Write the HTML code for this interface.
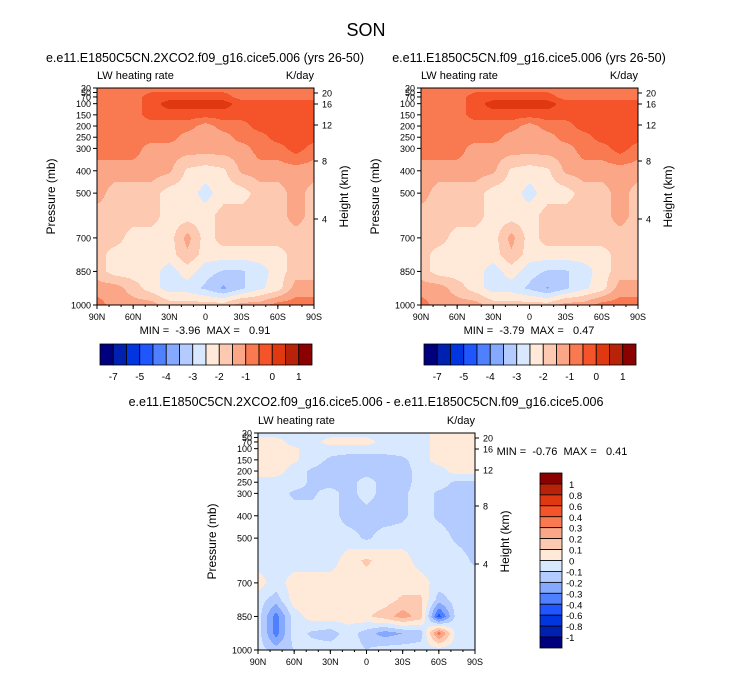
<!DOCTYPE html>
<html><head><meta charset="utf-8"><style>
body{margin:0;background:#fff;font-family:"Liberation Sans",sans-serif;}
svg text{font-family:"Liberation Sans",sans-serif;fill:#000;}
</style></head><body>
<svg id="fig" width="733" height="673" viewBox="0 0 733 673" xmlns="http://www.w3.org/2000/svg">
<rect width="733" height="673" fill="#fff"/>
<text x="366" y="36" font-size="18" text-anchor="middle">SON</text>
</svg>
<script>
const lats=[90,75,60,45,30,15,0,-15,-30,-45,-60,-75,-90];
const levs=[30,70,100,150,200,250,300,400,500,600,700,775,850,925,1000];
const pTicks=[30,50,70,100,150,200,250,300,400,500,700,850,1000];
const xTickLabels=["90N","60N","30N","0","30S","60S","90S"];
const hTickLabels=["20","16","12","8","4"];
const topBounds=[-7,-6,-5,-4.5,-4,-3.5,-3,-2.5,-2,-1.5,-1,-0.5,0,0.5,1];
const topBarLabels=["-7","-5","-4","-3","-2","-1","0","1"];
const diffBounds=[-1,-0.8,-0.6,-0.4,-0.3,-0.2,-0.1,0,0.1,0.2,0.3,0.4,0.6,0.8,1];
const diffBarLabels=["1","0.8","0.6","0.4","0.3","0.2","0.1","0","-0.1","-0.2","-0.3","-0.4","-0.6","-0.8","-1"];
const palette=["#00007f","#0020b0","#0035e0","#1f56ff","#4f80ff","#85a9ff","#b3cbff","#d8e8ff","#ffe9d8","#fdc9b0","#fca688","#f97a50","#f5532a","#e03912","#b82208","#8b0000"];
// LW heating rate, 2xCO2 (K/day), rows=levs, cols=lats
const co2Vals=[
[-0.75,-0.75,-0.75,-0.75,-0.75,-0.75,-0.75,-0.75,-0.75,-0.75,-0.75,-0.75,-0.75],
[-0.75,-0.75,-0.75,-0.25,-0.25,-0.25,-0.25,-0.25,-0.75,-0.75,-0.75,-0.75,-0.75],
[-0.75,-0.75,-0.75,-0.25,0.25,0.25,0.3,0.25,-0.25,-0.25,-0.25,-0.25,-0.25],
[-0.75,-0.75,-0.75,-0.25,-0.25,-0.25,-0.3,-0.25,-0.25,-0.25,-0.25,-0.25,-0.25],
[-0.75,-0.75,-0.75,-0.75,-0.75,-0.75,-1.25,-0.75,-0.75,-0.25,-0.25,-0.25,-0.25],
[-0.75,-0.75,-0.75,-0.75,-0.75,-1.25,-1.25,-1.25,-0.75,-0.75,-0.25,-0.25,-0.25],
[-0.75,-0.75,-0.75,-1.25,-1.25,-1.25,-1.25,-1.25,-1.25,-0.75,-0.75,-0.25,-0.75],
[-1.25,-1.25,-1.25,-1.25,-1.4,-2.1,-2.25,-2.1,-1.4,-1.25,-1.25,-1.25,-1.25],
[-1.25,-1.75,-1.75,-1.75,-2.25,-2.25,-2.7,-2.25,-2.25,-1.75,-1.75,-1.25,-1.75],
[-1.75,-1.75,-1.75,-1.75,-2.25,-2.25,-2.25,-1.75,-1.75,-1.75,-1.75,-1.25,-1.75],
[-1.75,-1.75,-2.25,-2.25,-2.25,-1.3,-2.25,-1.75,-1.75,-1.75,-1.75,-1.75,-1.75],
[-1.75,-2.25,-2.25,-2.25,-2.25,-1.6,-2.25,-2.25,-2.25,-2.25,-2.25,-1.75,-1.75],
[-1.75,-2.25,-2.25,-2.25,-2.75,-2.25,-2.8,-3.05,-3.05,-2.75,-2.25,-1.75,-1.75],
[-1.25,-1.25,-1.75,-2.25,-2.75,-2.75,-3.1,-3.6,-3.1,-2.6,-2.25,-1.25,-1.25],
[-0.75,-1.25,-1.25,-1.25,-1.75,-1.75,-1.75,-1.75,-1.25,-1.25,-0.75,-0.75,-0.75]];
// LW heating rate, control (K/day)
const ctlVals=[
[-0.75,-0.75,-0.75,-0.75,-0.75,-0.75,-0.75,-0.75,-0.75,-0.75,-0.75,-0.75,-0.75],
[-0.75,-0.75,-0.75,-0.25,-0.25,-0.25,-0.25,-0.25,-0.75,-0.75,-0.75,-0.75,-0.75],
[-0.75,-0.75,-0.75,-0.25,0.25,0.25,0.3,0.25,-0.25,-0.25,-0.25,-0.25,-0.25],
[-0.75,-0.75,-0.75,-0.25,-0.25,-0.25,-0.3,-0.25,-0.25,-0.25,-0.25,-0.25,-0.25],
[-0.75,-0.75,-0.75,-0.75,-0.75,-0.75,-1.25,-0.75,-0.75,-0.25,-0.25,-0.25,-0.25],
[-0.75,-0.75,-0.75,-0.75,-0.75,-1.25,-1.25,-1.25,-0.75,-0.75,-0.25,-0.25,-0.25],
[-0.75,-0.75,-0.75,-1.25,-1.25,-1.25,-1.25,-1.25,-1.25,-0.75,-0.75,-0.25,-0.75],
[-1.25,-1.25,-1.25,-1.25,-1.4,-2.1,-2.25,-2.1,-1.4,-1.25,-1.25,-1.25,-1.25],
[-1.25,-1.75,-1.75,-1.75,-2.25,-2.25,-2.7,-2.25,-2.25,-1.75,-1.75,-1.25,-1.75],
[-1.75,-1.75,-1.75,-1.75,-2.25,-2.25,-2.25,-1.75,-1.75,-1.75,-1.75,-1.25,-1.75],
[-1.75,-1.75,-2.25,-2.25,-2.25,-1.3,-2.25,-1.75,-1.75,-1.75,-1.75,-1.75,-1.75],
[-1.75,-2.25,-2.25,-2.25,-2.25,-1.6,-2.25,-2.25,-2.25,-2.25,-2.25,-1.75,-1.75],
[-1.75,-2.25,-2.25,-2.25,-2.75,-2.25,-2.8,-3.05,-3.05,-2.75,-2.25,-1.75,-1.75],
[-1.25,-1.25,-1.75,-2.25,-2.75,-2.75,-3.1,-3.55,-3.1,-2.6,-2.25,-1.25,-1.25],
[-0.75,-1.25,-1.25,-1.25,-1.75,-1.75,-1.75,-1.75,-1.25,-1.25,-0.75,-0.75,-0.75]];
// difference (K/day)
const diffVals=[
[-.05,-.05,-.05,-.05,-.05,-.05,-.05,-.05,-.05,-.05,.05,.05,.05],
[.05,.05,-.05,-.05,.05,.05,.05,-.05,-.05,-.05,.05,.05,.05],
[.05,.05,.02,-.05,-.05,-.05,-.05,-.05,-.05,-.05,.05,.05,.05],
[.05,.05,.02,-.05,-.12,-.15,-.15,-.15,-.12,-.05,.05,.05,.05],
[.05,.05,-.05,-.12,-.15,-.15,-.15,-.15,-.15,-.05,-.05,.05,.05],
[-.05,-.05,-.05,-.12,-.15,-.15,-.05,-.15,-.15,-.05,-.05,-.12,-.12],
[-.05,-.05,-.12,-.12,-.05,-.15,-.05,-.15,-.12,-.05,-.12,-.15,-.15],
[-.05,-.05,-.05,-.05,-.05,-.15,-.15,-.15,-.12,-.05,-.12,-.15,-.15],
[-.05,-.05,-.05,-.05,-.05,-.05,-.12,-.05,-.05,-.05,-.05,-.12,-.15],
[-.05,-.05,-.05,-.05,-.05,.05,.12,.05,.05,-.05,-.05,-.05,-.12],
[.05,-.05,.05,.05,.05,.05,.05,.05,.05,.05,-.05,-.05,-.05],
[-.05,-.15,.05,.05,.05,.05,.05,.05,.12,.12,-.15,-.05,-.05],
[-.05,-.35,-.05,.05,.05,.05,.08,.15,.25,.15,-.45,-.05,-.05],
[-.05,-.35,-.05,-.12,-.15,-.05,-.15,-.25,-.2,-.15,.35,-.05,-.05],
[-.05,-.15,-.1,-.05,-.05,-.05,-.1,-.05,-.05,-.05,-.05,-.05,-.05]];

const NS="http://www.w3.org/2000/svg";
const svg=document.getElementById('fig');
function mk(tag,attrs,parent){const e=document.createElementNS(NS,tag);for(const k in attrs)e.setAttribute(k,attrs[k]);(parent||svg).appendChild(e);return e;}
function txt(x,y,s,size,anchor,parent){const t=mk('text',{x:x,y:y,'font-size':size,'text-anchor':anchor||'start'},parent);t.textContent=s;return t;}
function colorIdx(v,b){let k=0;for(const x of b)if(v>=x)k++;return k;}
function sample(vals,lat,p){
  let i=0;while(i<lats.length-2&&lat<lats[i+1])i++;
  let j=0;while(j<levs.length-2&&p>levs[j+1])j++;
  const fx=(lats[i]-lat)/(lats[i]-lats[i+1]);const fy=(p-levs[j])/(levs[j+1]-levs[j]);
  const a=vals[j][i],b=vals[j][i+1],c=vals[j+1][i],d=vals[j+1][i+1];
  return a*(1-fx)*(1-fy)+b*fx*(1-fy)+c*(1-fx)*fy+d*fx*fy;
}
function panel(name,X,Y,vals,bounds,subtitle,subX,subY,minmax,mmX,mmY){
  const W=217,H=217;
  const g=mk('g',{},svg);
  
  
  const ys=p=>Y+(p-30)/970*H;
  const field=mk('g',{},g);
  
  
  for(let r=0;r<H;r++){
    const p=30+(r+0.5)/H*970;
    let start=0,cur=-1;
    for(let c=0;c<=W;c++){
      let k=-2;
      if(c<W){const lat=90-(c+0.5)/W*180;k=colorIdx(sample(vals,lat,p),bounds);}
      if(k!==cur){
        if(cur>=0){mk('rect',{x:X+start,y:Y+r,width:c-start,height:1.05,fill:palette[cur]},field);}
        cur=k;start=c;
      }
    }
  }
  mk('rect',{x:X,y:Y,width:W,height:H,fill:'none',stroke:'#000','stroke-width':1},g);
  pTicks.forEach(p=>{const y=ys(p);mk('line',{x1:X-4,x2:X,y1:y,y2:y,stroke:'#000'},g);
    const t=txt(X-6,y+3.5,String(p),9,'end',g);});
  const hOff=[5,16,37,73,131];
  hTickLabels.forEach((h,i)=>{const y=Y+hOff[i];mk('line',{x1:X+W,x2:X+W+4,y1:y,y2:y,stroke:'#000'},g);
    const t=txt(X+W+8,y+3.5,h,9,'start',g);});
  xTickLabels.forEach((s,i)=>{const x=X+i*W/6;mk('line',{x1:x,x2:x,y1:Y+H,y2:Y+H+4,stroke:'#000'},g);
    const t=txt(x,Y+H+15,s,9,'middle',g);});
  for(let i=0;i<=18;i++){const x=X+i*W/18;mk('line',{x1:x,x2:x,y1:Y+H,y2:Y+H+2,stroke:'#000'},g);}
  const yt=txt(0,0,'Pressure (mb)',12,'middle',g);yt.setAttribute('transform',`translate(${X-42},${Y+H/2}) rotate(-90)`);
  
  const ht=txt(0,0,'Height (km)',12,'middle',g);ht.setAttribute('transform',`translate(${X+W+34},${Y+H/2}) rotate(-90)`);
  
  const l1=txt(X,Y-9,'LW heating rate',11,'start',g);
  const l2=txt(X+W,Y-9,'K/day',11,'end',g);
  const st=txt(subX,subY,subtitle,12.5,'middle',g);
  const mm=txt(mmX,mmY,minmax,11,'middle',g);
  mm.setAttribute('xml:space','preserve');mm.style.whiteSpace='pre';
  return g;
}
function hbar(X,Y,name){
  const g=mk('g',{},svg);
  
  
  const w=212/16;
  palette.forEach((c,i)=>{const r=mk('rect',{x:X+i*w,y:Y,width:w,height:21,fill:c,stroke:'#000','stroke-width':0.8},g);
    });
  topBarLabels.forEach((s,i)=>{const t=txt(X+(2*i+1)*w,Y+36,s,10,'middle',g);});
}
function vbar(X,Y,name){
  const g=mk('g',{},svg);
  
  
  const h=175/16;
  palette.slice().reverse().forEach((c,i)=>{const r=mk('rect',{x:X,y:Y+i*h,width:22,height:h,fill:c,stroke:'#000','stroke-width':0.8},g);
    });
  diffBarLabels.forEach((s,i)=>{const t=txt(X+26+(s[0]==='-'?0:3),Y+(i+1)*h+4,s,9.5,'start',g);});
}
panel('panel-2xco2',97,88,co2Vals,topBounds,'e.e11.E1850C5CN.2XCO2.f09_g16.cice5.006 (yrs 26-50)',205,62,'MIN =  -3.96  MAX =   0.91',205,334);
panel('panel-control',421,88,ctlVals,topBounds,'e.e11.E1850C5CN.f09_g16.cice5.006 (yrs 26-50)',529,62,'MIN =  -3.79  MAX =   0.47',529,334);
panel('panel-difference',258,433,diffVals,diffBounds,'e.e11.E1850C5CN.2XCO2.f09_g16.cice5.006 - e.e11.E1850C5CN.f09_g16.cice5.006',366,406,'MIN =  -0.76  MAX =   0.41',562,455);
hbar(100,344,'colorbar-2xco2');
hbar(424,344,'colorbar-control');
vbar(540,473,'colorbar-difference');
</script>
</body></html>
